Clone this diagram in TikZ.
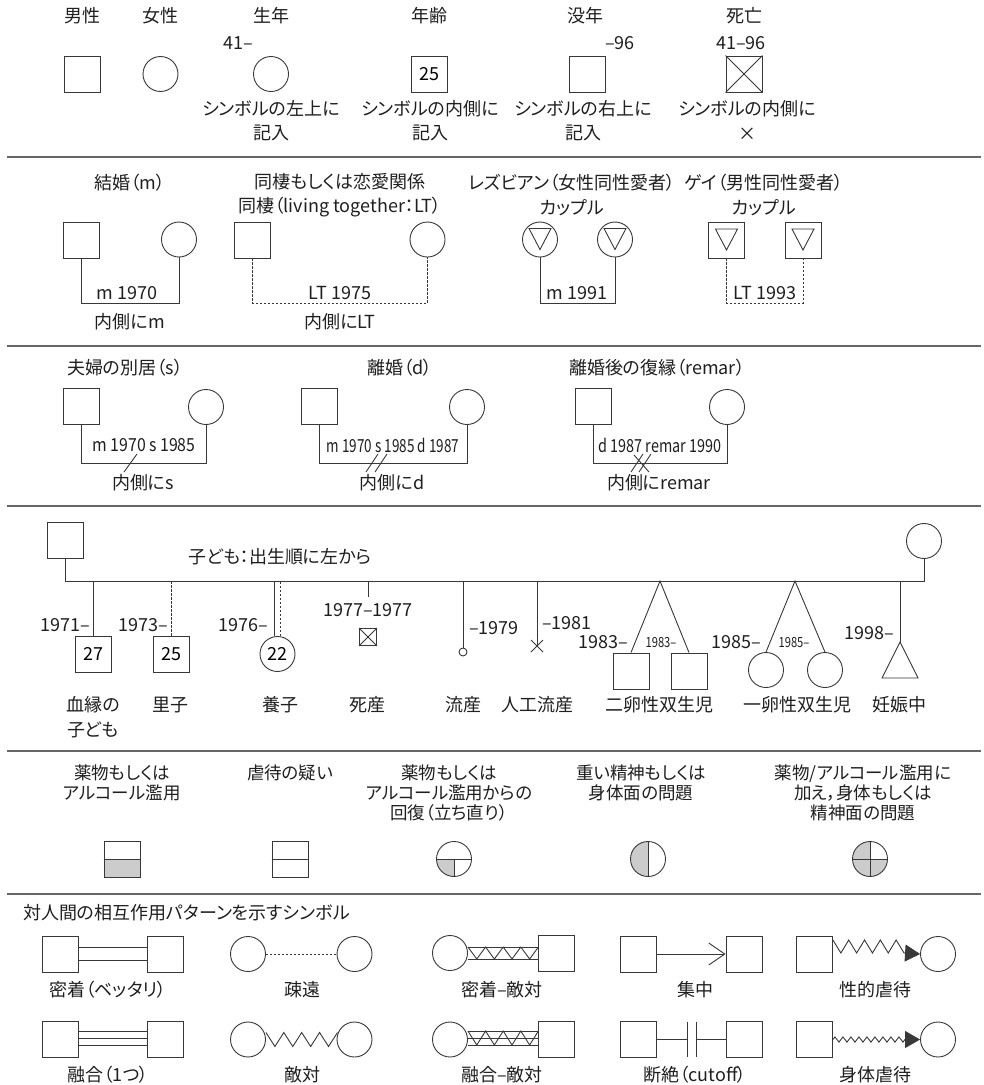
\documentclass[tikz,border=0pt]{standalone}
\usepackage{fontspec}
\setmainfont{Noto Sans CJK JP}[RawFeature=+palt]
\usepackage{graphicx}
\usetikzlibrary{arrows.meta}
\tikzset{
  ln/.style={line width=0.9pt, draw=black!78},
  male/.style={ln, rectangle, minimum size=36pt, inner sep=0pt, font=\fontsize{18}{22}\selectfont},
  female/.style={ln, circle, minimum size=35pt, inner sep=0pt, font=\fontsize{18}{22}\selectfont},
  lbl/.style={inner sep=0pt, text=black!88, align=center, font=\fontsize{18}{24.5}\selectfont},
  lblb/.style={inner sep=0pt, text=black!88, align=center, font=\fontsize{17.5}{20}\selectfont},
  lbls/.style={inner sep=0pt, text=black!88, font=\fontsize{14}{16}\selectfont},
  sep/.style={line width=1.3pt, draw=black!60},
  dotl/.style={ln, dash pattern=on 2.2pt off 1.8pt},
  shade/.style={fill=black!20},
}
\begin{document}
\begin{tikzpicture}[x=1pt,y=-1pt]
\fill[white] (0,0) rectangle (984,1085);
\useasboundingbox (0,0) rectangle (984,1085);

% ---------- Section 1
\node[lbl] (t1) at (82,16) {男性};
\node[male] (s1m) at (82.5,74) {};
\node[lbl] (t2) at (160.5,16) {女性};
\node[female] (s1f) at (160.5,74) {};
\node[lbl] (t3) at (271,16) {生年};
\node[lbl, anchor=east] (y3) at (253,43) {41–};
\node[female] (s1b) at (271,74) {};
\node[lbl] (d3) at (271,120.5) {シンボルの左上に\\記入};
\node[lbl] (t4) at (429,16) {年齢};
\node[male] (s1a) at (429,74) {25};
\node[lbl] (d4) at (430,120.5) {シンボルの内側に\\記入};
\node[lbl] (t5) at (585,16) {没年};
\node[lbl, anchor=west] (y5) at (605,43) {–96};
\node[male] (s1d) at (587.5,74) {};
\node[lbl] (d5) at (583,120.5) {シンボルの右上に\\記入};
\node[lbl] (t6) at (744,16) {死亡};
\node[lbl] (y6) at (741,43) {41–96};
\node[male] (s1x) at (744,74) {};
\draw[ln] (s1x.north west) -- (s1x.south east) (s1x.north east) -- (s1x.south west);
\node[lbl] (d6) at (747,120.5) {シンボルの内側に\\×};

\coordinate (sp1a) at (7,157); \coordinate (sp1b) at (981,157);
\draw[sep] (sp1a) -- (sp1b);

% ---------- Section 2
\coordinate (ml2) at (0,303);
\node[lbl] (t7) at (130,183) {結婚（m）};
\node[male] (a1) at (81,240) {};
\node[female] (a2) at (179,239.5) {};
\draw[ln] (a1.south) -- (a1.south |- ml2) -- (a2.south |- ml2) -- (a2.south);
\node[lbl] (a3) at (127,293) {m 1970};
\node[lbl] (a4) at (130,322) {内側にm};

\node[lbl] (t8) at (340,195) {同棲もしくは恋愛関係\\同棲（living together：LT）};
\node[male] (b1) at (252.5,240) {};
\node[female] (b2) at (427.5,239.5) {};
\draw[dotl] (b1.south) -- (b1.south |- ml2) -- (b2.south |- ml2) -- (b2.south);
\node[lbl] (b3) at (340,293) {LT 1975};
\node[lbl] (b4) at (340,322) {内側にLT};

\node[lbl] (t9) at (572,195) {レズビアン（女性同性愛者）\\カップル};
\node[female] (c1) at (540,239.5) {};
\node[female] (c2) at (615,239.5) {};
\draw[ln] (c1) ++(-11,-11) -- ++(22,0) -- ++(-11,21) -- cycle;
\draw[ln] (c2) ++(-11,-11) -- ++(22,0) -- ++(-11,21) -- cycle;
\draw[ln] (c1.south) -- (c1.south |- ml2) -- (c2.south |- ml2) -- (c2.south);
\node[lbl] (c3) at (577,293) {m 1991};

\node[lbl] (t10) at (764,195) {ゲイ（男性同性愛者）\\カップル};
\node[male] (g1) at (726.5,240) {};
\node[male] (g2) at (803,240) {};
\draw[ln] (g1) ++(-11,-11) -- ++(22,0) -- ++(-11,21) -- cycle;
\draw[ln] (g2) ++(-11,-11) -- ++(22,0) -- ++(-11,21) -- cycle;
\draw[dotl] (g1.south) -- (g1.south |- ml2) -- (g2.south |- ml2) -- (g2.south);
\node[lbl] (g3) at (765,293) {LT 1993};

\coordinate (sp2a) at (7,346); \coordinate (sp2b) at (981,346);
\draw[sep] (sp2a) -- (sp2b);

% ---------- Section 3
\coordinate (ml3) at (0,463);
\node[lbl] (t11) at (125,368) {夫婦の別居（s）};
\node[male] (e1) at (81,406) {};
\node[female] (e2) at (206,407) {};
\draw[ln] (e1.south) -- (e1.south |- ml3) -- (e2.south |- ml3) -- (e2.south);
\node[lbl] (e3) at (144,445) {\scalebox{0.88}[1]{m 1970 s 1985}};
\draw[ln] (124,472) -- (137,454);
\node[lbl] (e4) at (143,483) {内側にs};

\node[lbl] (t12) at (400,368) {離婚（d）};
\node[male] (h1) at (319,406) {};
\node[female] (h2) at (467,407) {};
\draw[ln] (h1.south) -- (h1.south |- ml3) -- (h2.south |- ml3) -- (h2.south);
\node[lbl] (h3) at (393,445) {\scalebox{0.75}[1]{m 1970 s 1985 d 1987}};
\draw[ln] (366,472) -- (378,454) (375,472) -- (387,454);
\node[lbl] (h4) at (392,483) {内側にd};

\node[lbl] (t13) at (657,368) {離婚後の復縁（remar）};
\node[male] (r1) at (593,406) {};
\node[female] (r2) at (727,407) {};
\draw[ln] (r1.south) -- (r1.south |- ml3) -- (r2.south |- ml3) -- (r2.south);
\node[lbl] (r3) at (660,445) {\scalebox{0.8}[1]{d 1987 remar 1990}};
\draw[ln] (631,472) -- (643,454) (639,472) -- (651,454) (634,455) -- (649,472);
\node[lbl] (r4) at (659,483) {内側にremar};

\coordinate (sp3a) at (7,506); \coordinate (sp3b) at (981,506);
\draw[sep] (sp3a) -- (sp3b);

% ---------- Section 4
\coordinate (sl) at (0,581);
\node[male] (p1) at (65.5,540) {};
\node[female] (p2) at (924,541) {};
\draw[ln] (p1.south) -- (p1.south |- sl) -- (p2.south |- sl) -- (p2.south);
\node[lbl] (t14) at (280,557) {子ども：出生順に左から};

\node[male] (k1) at (93,654) {27};
\draw[ln] (k1.north) -- (k1.north |- sl);
\node[lbl, anchor=east] (k1y) at (90,625) {1971–};

\node[male] (k2) at (171,654) {25};
\draw[dotl] (k2.north) -- (k2.north |- sl);
\node[lbl, anchor=east] (k2y) at (168,625) {1973–};

\node[female] (k3) at (277.5,654) {22};
\draw[ln] ([xshift=-3pt]k3.north) -- ([xshift=-3pt]k3.north |- sl);
\draw[dotl] ([xshift=3pt]k3.north) -- ([xshift=3pt]k3.north |- sl);
\node[lbl, anchor=east] (k3y) at (268,625) {1976–};

\coordinate (k4t) at (368,597);
\draw[ln] (k4t) -- (k4t |- sl);
\node[lbl] (k4y) at (368,610) {1977–1977};
\node[ln, rectangle, minimum size=17pt, inner sep=0pt] (k4) at (368,637) {};
\draw[ln] (k4.north west) -- (k4.south east) (k4.north east) -- (k4.south west);

\node[ln, circle, minimum size=8pt, inner sep=0pt] (k5) at (463,652) {};
\draw[ln] (k5.north) -- (k5.north |- sl);
\node[lbl, anchor=west] (k5y) at (469,628) {–1979};

\coordinate (k6) at (537,646);
\draw[ln] (k6) -- (k6 |- sl);
\draw[ln] (k6) ++(-6,-6) -- ++(12,12);
\draw[ln] (k6) ++(6,-6) -- ++(-12,12);
\node[lbl, anchor=west] (k6y) at (542,623) {–1981};

\coordinate (tw1) at (660,581);
\node[male] (k7) at (631,671) {};
\node[male] (k8) at (689,671) {};
\draw[ln] (k7.north) -- (tw1) -- (k8.north);
\node[lbl, anchor=east] (k7y) at (628,642) {1983–};
\node[lbls] (k8y) at (661,642) {\scalebox{0.8}[1]{1983–}};

\coordinate (tw2) at (795,581);
\node[female] (k9) at (766,670) {};
\node[female] (k10) at (825,670) {};
\draw[ln] (k9.north) -- (tw2) -- (k10.north);
\node[lbl, anchor=east] (k9y) at (761,642) {1985–};
\node[lbls] (k10y) at (794,642) {\scalebox{0.8}[1]{1985–}};

\coordinate (k11) at (900,642);
\draw[ln] (k11) -- (k11 |- sl);
\draw[ln] (k11) -- ++(18,36) -- ++(-36,0) -- cycle;
\node[lbl, anchor=east] (k11y) at (894,633) {1998–};

\node[lbl] (n1) at (93,717) {血縁の\\子ども};
\node[lbl] (n2) at (170,705) {里子};
\node[lbl] (n3) at (280,705) {養子};
\node[lbl] (n4) at (367,705) {死産};
\node[lbl] (n5) at (463,705) {流産};
\node[lbl] (n6) at (537,705) {人工流産};
\node[lbl] (n7) at (659,705) {二卵性双生児};
\node[lbl] (n8) at (797,705) {一卵性双生児};
\node[lbl] (n9) at (899,705) {妊娠中};

\coordinate (sp4a) at (7,751); \coordinate (sp4b) at (981,751);
\draw[sep] (sp4a) -- (sp4b);

% ---------- Section 5
\node[lblb] (o1) at (122,783) {薬物もしくは\\アルコール濫用};
\node[lblb] (o2) at (290,773) {虐待の疑い};
\node[lblb] (o3) at (449,793) {薬物もしくは\\アルコール濫用からの\\回復（立ち直り）};
\node[lblb] (o4) at (641,783) {重い精神もしくは\\身体面の問題};
\node[lblb] (o5) at (863,793) {薬物/アルコール濫用に\\加え，身体もしくは\\精神面の問題};

\coordinate (q1c) at (122,859);
\fill[shade] ([xshift=-18pt]q1c) rectangle ([xshift=18pt,yshift=-18pt]q1c);
\node[male] (q1) at (q1c) {};
\draw[ln] (q1.west) -- (q1.east);

\node[male] (q2) at (290,859) {};
\draw[ln] (q2.west) -- (q2.east);

\coordinate (q3c) at (454,859);
\begin{scope}
\clip (q3c) rectangle ([xshift=-20pt,yshift=-20pt]q3c);
\fill[shade] (q3c) circle[radius=17.5pt];
\end{scope}
\node[female] (q3) at (q3c) {};
\draw[ln] (q3.west) -- (q3.east) (q3.center) -- (q3.south);

\coordinate (q4c) at (648,859);
\begin{scope}
\clip ([xshift=-20pt,yshift=20pt]q4c) rectangle ([yshift=-20pt]q4c);
\fill[shade] (q4c) circle[radius=17.5pt];
\end{scope}
\node[female] (q4) at (q4c) {};
\draw[ln] (q4.north) -- (q4.south);

\coordinate (q5c) at (870,859);
\begin{scope}
\clip ([xshift=-20pt,yshift=20pt]q5c) rectangle ([yshift=-20pt]q5c)
      (q5c) rectangle ([xshift=20pt,yshift=-20pt]q5c);
\fill[shade] (q5c) circle[radius=17.5pt];
\end{scope}
\node[female] (q5) at (q5c) {};
\draw[ln] (q5.north) -- (q5.south) (q5.west) -- (q5.east);

\coordinate (sp5a) at (7,894); \coordinate (sp5b) at (981,894);
\draw[sep] (sp5a) -- (sp5b);

% ---------- Section 6
\node[lbl, anchor=west] (t15) at (23,913) {対人間の相互作用パターンを示すシンボル};

% row 1
\node[male] (u1) at (60,954) {};
\node[male] (u2) at (165.5,954) {};
\draw[ln] ([yshift=7pt]u1.east) -- ([yshift=7pt]u2.west);
\draw[ln] ([yshift=-6pt]u1.east) -- ([yshift=-6pt]u2.west);
\node[lbl] (u1l) at (108,990) {密着（ベッタリ）};

\node[female] (v1) at (248,954) {};
\node[female] (v2) at (354.5,954) {};
\draw[dotl] (v1.east) -- (v2.west);
\node[lbl] (v1l) at (302,990) {疎遠};

\node[female] (w1) at (450,953) {};
\node[male] (w2) at (556,953) {};
\draw[ln] ([yshift=6pt]w1.east) -- ([yshift=6pt]w2.west);
\draw[ln] ([yshift=-6pt]w1.east) -- ([yshift=-6pt]w2.west);
\draw[ln] ([yshift=6pt]w1.east) \foreach \i in {1,...,4}{ -- ++(8.81,12) -- ++(8.81,-12)};
\node[lbl] (w1l) at (502,990) {密着–敵対};

\node[male] (x1) at (638,954) {};
\node[male] (x2) at (744,954) {};
\draw[ln, -{Straight Barb[length=16pt,width=22pt]}] (x1.east) -- (x2.west);
\node[lbl] (x1l) at (695,990) {集中};

\node[male] (z1) at (814.5,954) {};
\node[female] (z2) at (938,954) {};
\draw[ln, -{Triangle[length=15pt,width=17pt]}] ([yshift=14pt]z1.east) -- ++(7.9,13)
  \foreach \i in {1,...,4}{ -- ++(7.9,-13) -- ++(7.9,13)} -- (z2.west);
\node[lbl] (z1l) at (875,990) {性的虐待};

% row 2
\node[male] (u3) at (60,1039.5) {};
\node[male] (u4) at (165.5,1039.5) {};
\draw[ln] ([yshift=8.5pt]u3.east) -- ([yshift=8.5pt]u4.west);
\draw[ln] ([yshift=1.5pt]u3.east) -- ([yshift=1.5pt]u4.west);
\draw[ln] ([yshift=-5.5pt]u3.east) -- ([yshift=-5.5pt]u4.west);
\node[lbl] (u3l) at (108,1075) {融合（1つ）};

\node[female] (v3) at (248,1039.5) {};
\node[female] (v4) at (354.5,1039.5) {};
\draw[ln] ([yshift=7pt]v3.east) \foreach \i in {1,...,4}{ -- ++(8.94,14) -- ++(8.94,-14)};
\node[lbl] (v3l) at (302,1075) {敵対};

\node[female] (w3) at (450,1039.5) {};
\node[male] (w4) at (556,1039.5) {};
\draw[ln] ([yshift=8.5pt]w3.east) -- ([yshift=8.5pt]w4.west);
\draw[ln] ([yshift=1.5pt]w3.east) -- ([yshift=1.5pt]w4.west);
\draw[ln] ([yshift=-5.5pt]w3.east) -- ([yshift=-5.5pt]w4.west);
\draw[ln] ([yshift=8.5pt]w3.east) \foreach \i in {1,...,4}{ -- ++(8.81,14) -- ++(8.81,-14)};
\node[lbl] (w3l) at (502,1075) {融合–敵対};

\node[male] (x3) at (638,1039.5) {};
\node[male] (x4) at (744,1039.5) {};
\coordinate (cb1) at (687,1039.5);
\coordinate (cb2) at (696,1039.5);
\draw[ln] (x3.east) -- (cb1);
\draw[ln] (cb2) -- (x4.west);
\draw[ln] (cb1) ++(0,-17.5) -- ++(0,35);
\draw[ln] (cb2) ++(0,-17.5) -- ++(0,35);
\node[lbl] (x3l) at (695,1075) {断絶（cutoff）};

\node[male] (z3) at (814.5,1039.5) {};
\node[female] (z4) at (938,1039.5) {};
\draw[ln, -{Triangle[length=15pt,width=17pt]}] (z3.east)
  \foreach \i in {1,...,9}{ -- ++(2,-2.6) -- ++(4,5.2) -- ++(2,-2.6)} -- (z4.west);
\node[lbl] (z3l) at (875,1075) {身体虐待};

\end{tikzpicture}
\end{document}
